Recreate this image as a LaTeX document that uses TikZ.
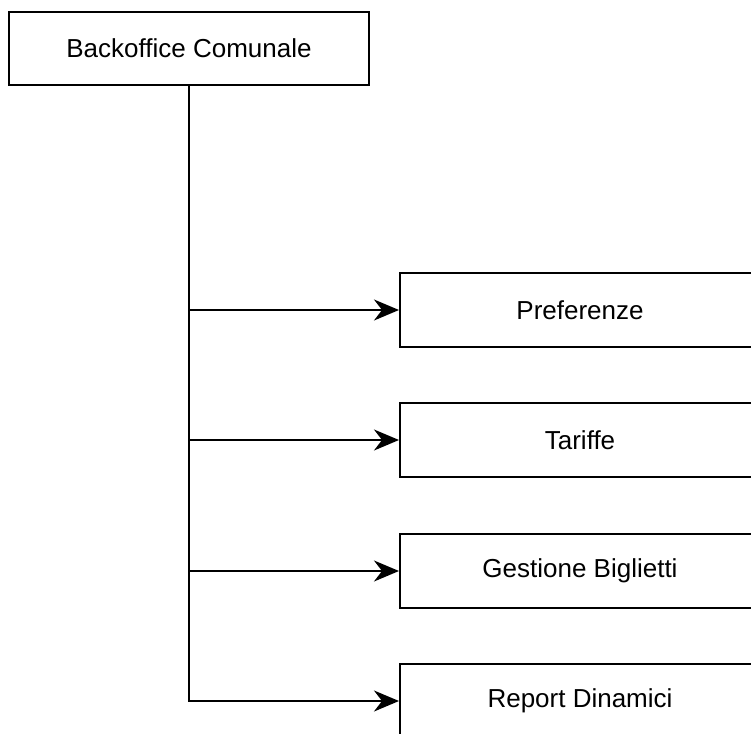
\documentclass[tikz,border=0pt]{standalone}
\usepackage{fontspec}
\setmainfont{Liberation Sans}
\usetikzlibrary{arrows.meta}
\begin{document}
\begin{tikzpicture}[x=1pt,y=-1pt,
  box/.style={draw=black,line width=2pt,fill=white,minimum width=360pt,inner sep=0pt,
    font=\fontsize{26}{31}\selectfont},
  link/.style={line width=2pt,-{Stealth[length=25pt,width=21pt,inset=8pt]}}]
\useasboundingbox (0,0) rectangle (751,733);
\clip (0,0) rectangle (751,733);
\node[box,minimum height=73pt] (root) at (189,48.5) {Backoffice Comunale};
\node[box,minimum height=74pt] (pref) at (580,310) {Preferenze};
\node[box,minimum height=74pt] (tar) at (580,440) {Tariffe};
\node[box,minimum height=74pt] (gest) at (580,571) {Gestione Biglietti};
\node[box,minimum height=74pt] (rep) at (580,701) {Report Dinamici};
\draw[link] (root.south) |- (pref.west);
\draw[link] (root.south) |- (tar.west);
\draw[link] (root.south) |- (gest.west);
\draw[link] (root.south) |- (rep.west);
\end{tikzpicture}
\end{document}
